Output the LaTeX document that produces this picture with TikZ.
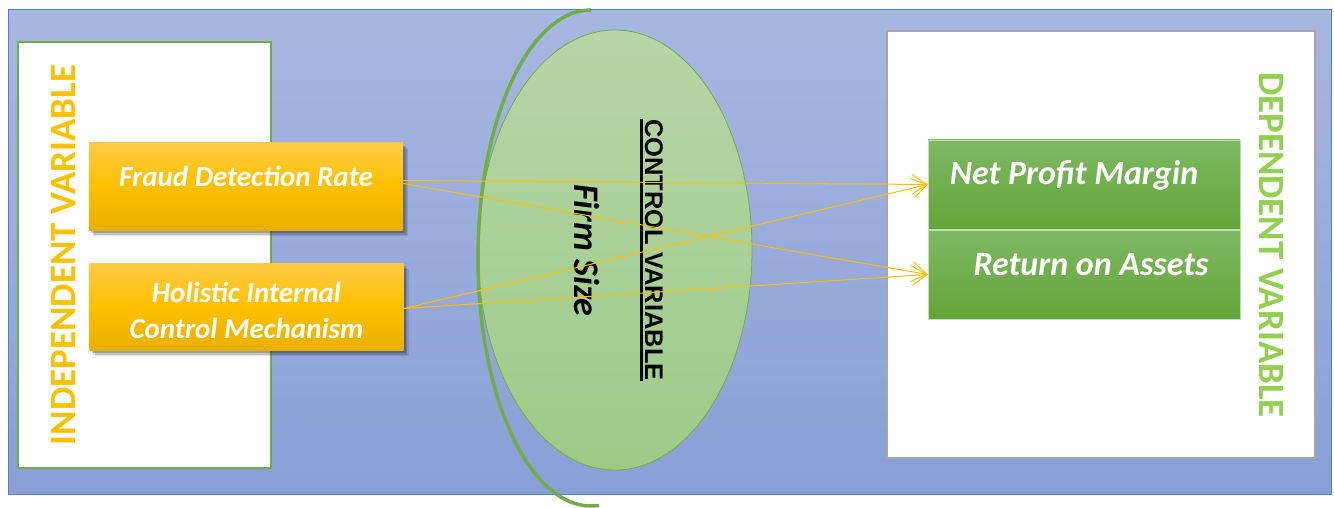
\documentclass[tikz,border=0pt]{standalone}
\usepackage{fontspec}
\setmainfont{Carlito}
\newfontfamily\arialf{Liberation Sans}
\usetikzlibrary{arrows.meta,shadows,shapes.geometric}
\definecolor{bgtop}{HTML}{A8B7E1}
\definecolor{bgbot}{HTML}{889FD6}
\definecolor{bgborder}{HTML}{4F7FCF}
\definecolor{ortop}{HTML}{FFCB47}
\definecolor{ormid}{HTML}{FFC000}
\definecolor{orbot}{HTML}{E8B000}
\definecolor{grtop}{HTML}{7EB964}
\definecolor{grbot}{HTML}{62A537}
\definecolor{eltop}{HTML}{B5D6A7}
\definecolor{elbot}{HTML}{9ECB88}
\definecolor{edgegreen}{HTML}{70AD47}
\definecolor{dvgreen}{HTML}{92D050}
\definecolor{ivorange}{HTML}{FFC000}
\definecolor{boxgray}{HTML}{A6A6A6}
\tikzset{
  varbox/.style={draw=#1, line width=2pt, fill=white, inner sep=0pt},
  orangebox/.style={rectangle, inner sep=0pt, minimum width=314, minimum height=87,
    top color=ortop, bottom color=orbot, middle color=ormid,
    general shadow={shadow xshift=5pt, shadow yshift=-6pt, opacity=0.10, fill=black},
    general shadow={shadow xshift=3.5pt, shadow yshift=-4.5pt, opacity=0.15, fill=black},
    general shadow={shadow xshift=2pt, shadow yshift=-3pt, opacity=0.2, fill=black}},
  greenbox/.style={rectangle, inner sep=0pt, minimum width=312, minimum height=89,
    draw=edgegreen!40, line width=0.6pt, top color=grtop, bottom color=grbot},
  boxtext/.style={text=white, font=\bfseries\itshape\fontsize{#1}{36}\selectfont, align=center, inner sep=0pt},
  sidelabel/.style={font=\bfseries\fontsize{37}{40}\selectfont, text=#1, inner sep=0pt},
  flow/.style={draw=ivorange, line width=1pt, -{Straight Barb[length=15pt,width=20pt,line width=1pt]}},
}
\begin{document}
\begin{tikzpicture}[x=1pt,y=-1pt]
\useasboundingbox (0,0) rectangle (1334,508);
% background panel
\draw[draw=bgborder, line width=1pt, top color=bgtop, bottom color=bgbot] (8,10) rectangle (1331,494);
% left independent box
\node[varbox=edgegreen, minimum width=253, minimum height=426] (ivbox) at (144.5,255) {};
\node[sidelabel=ivorange, rotate=90] (ivlabel) at (63.5,255) {INDEPENDENT VARIABLE};
% right dependent box
\node[varbox=boxgray, minimum width=428, minimum height=427] (dvbox) at (1101,244.5) {};
\node[sidelabel=dvgreen, rotate=-90] (dvlabel) at (1271,245) {DEPENDENT VARIABLE};
% control ellipse
\node[ellipse, minimum width=274, minimum height=440, inner sep=0pt, draw=edgegreen, line width=0.8pt,
  top color=eltop, bottom color=elbot] (ctrl) at (615,250) {};
\draw[edgegreen, line width=3.5pt] (591,10) arc[start angle=-90, end angle=-274, x radius=113, y radius=248];
\node[rotate=-90, font=\arialf\bfseries\fontsize{25.5}{30}\selectfont, inner xsep=0pt, inner ysep=3pt] (cvlabel) at (654,250) {CONTROL VARIABLE};
\draw[black, line width=3pt] (cvlabel.south west) -- (cvlabel.south east);
\node[rotate=-90, font=\bfseries\itshape\fontsize{36}{40}\selectfont, inner sep=0pt] (fslabel) at (587,250.5) {Firm Size};
% independent variables
\node[orangebox] (fdr) at (246,186.5) {};
\node[boxtext=29] (fdrtext) at (246,176) {Fraud Detection Rate};
\node[orangebox] (hicm) at (246.5,306.5) {};
\node[boxtext=29] (hicmtext) at (246.5,310) {Holistic Internal\\Control Mechanism};
% dependent variables
\node[greenbox] (npm) at (1084,184.5) {};
\node[boxtext=34] (npmtext) at (1074,175) {Net Profit Margin};
\node[greenbox] (roa) at (1084,274.5) {};
\node[boxtext=34] (roatext) at (1091,265) {Return on Assets};
% connectors
\draw[flow] ([yshift=6pt]fdr.east) -- (npm.west);
\draw[flow] ([yshift=3pt]fdr.east) -- (roa.west);
\draw[flow] ([yshift=-2pt]hicm.east) -- (npm.west);
\draw[flow] ([yshift=-2pt]hicm.east) -- (roa.west);
\end{tikzpicture}
\end{document}
